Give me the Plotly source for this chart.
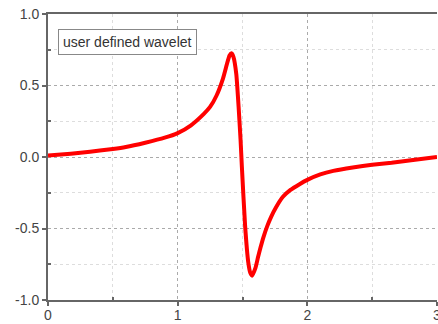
import plotly.graph_objects as go

x_vals = [0.0, 0.1, 0.25, 0.4, 0.5, 0.6, 0.75, 0.9, 1.0, 1.1, 1.2, 1.25, 1.3, 1.35, 1.38,
          1.40, 1.415, 1.43, 1.452, 1.47, 1.485, 1.495, 1.52, 1.545, 1.56, 1.574, 1.60,
          1.62, 1.64, 1.66, 1.69, 1.72, 1.76, 1.81, 1.87, 1.94, 2.0, 2.1, 2.2, 2.35,
          2.5, 2.65, 2.8, 3.0]
y_vals = [0.01, 0.017, 0.03, 0.045, 0.056, 0.07, 0.10, 0.135, 0.167, 0.22, 0.30, 0.35, 0.43,
          0.55, 0.65, 0.71, 0.725, 0.70, 0.58, 0.35, 0.12, -0.065, -0.48, -0.74, -0.81,
          -0.83, -0.775, -0.70, -0.63, -0.565, -0.485, -0.42, -0.35, -0.28, -0.23, -0.19,
          -0.16, -0.122, -0.097, -0.073, -0.054, -0.04, -0.022, 0.0]

y_ticks = [-1.0, -0.5, 0.0, 0.5, 1.0]
y_tick_text = ["-1.0", "-0.5", "0.0", "0.5", "1.0"]
x_ticks = [0, 1, 2, 3]
x_tick_text = ["0", "1", "2", "3"]
legend_text = "user defined wavelet"

fig = go.Figure()
fig.add_trace(go.Scatter(x=x_vals, y=y_vals, mode="lines",
                         line=dict(color="#ff0000", width=4, shape="spline", smoothing=0.5),
                         showlegend=False, hoverinfo="skip"))

axis_font = dict(family="Liberation Sans, Arial, sans-serif", size=14, color="#444444")

fig.update_layout(
    width=438, height=324,
    margin=dict(l=48, r=1, t=14, b=24, autoexpand=False),
    paper_bgcolor="white", plot_bgcolor="white",
    xaxis=dict(range=[0, 3], tickmode="array", tickvals=x_ticks, ticktext=x_tick_text,
               automargin=False, ticklabelstandoff=-3,
               showline=True, linecolor="#666666", linewidth=2, mirror=True,
               ticks="outside", ticklen=4, tickcolor="#666666", tickwidth=2,
               showgrid=True, gridcolor="#aaaaaa", griddash="dot", gridwidth=1,
               zeroline=False, tickfont=axis_font, ticklabeloverflow="allow",
               minor=dict(tickvals=[0.5, 1.5, 2.5], ticks="inside", ticklen=3,
                          tickcolor="#666666", tickwidth=2,
                          showgrid=True, gridcolor="#dddddd", gridwidth=1)),
    yaxis=dict(range=[-1, 1], tickmode="array", tickvals=y_ticks, ticktext=y_tick_text,
               automargin=False,
               showline=True, linecolor="#666666", linewidth=2,
               ticks="outside", ticklen=4, tickcolor="#666666", tickwidth=2,
               showgrid=True, gridcolor="#aaaaaa", griddash="dot", gridwidth=1,
               zeroline=False, tickfont=axis_font, ticklabeloverflow="allow",
               minor=dict(tickvals=[-0.75, -0.25, 0.25, 0.75], ticks="inside", ticklen=3,
                          tickcolor="#666666", tickwidth=2,
                          showgrid=True, gridcolor="#dddddd", gridwidth=1)),
    annotations=[dict(text=legend_text, xref="paper", yref="paper",
                      x=0.026, y=0.948, xanchor="left", yanchor="top",
                      showarrow=False, bgcolor="white", bordercolor="#888888",
                      borderwidth=1, borderpad=4,
                      font=dict(family="Liberation Sans, Arial, sans-serif", size=14,
                                color="#333333"))],
)

fig.write_html("out.html")
